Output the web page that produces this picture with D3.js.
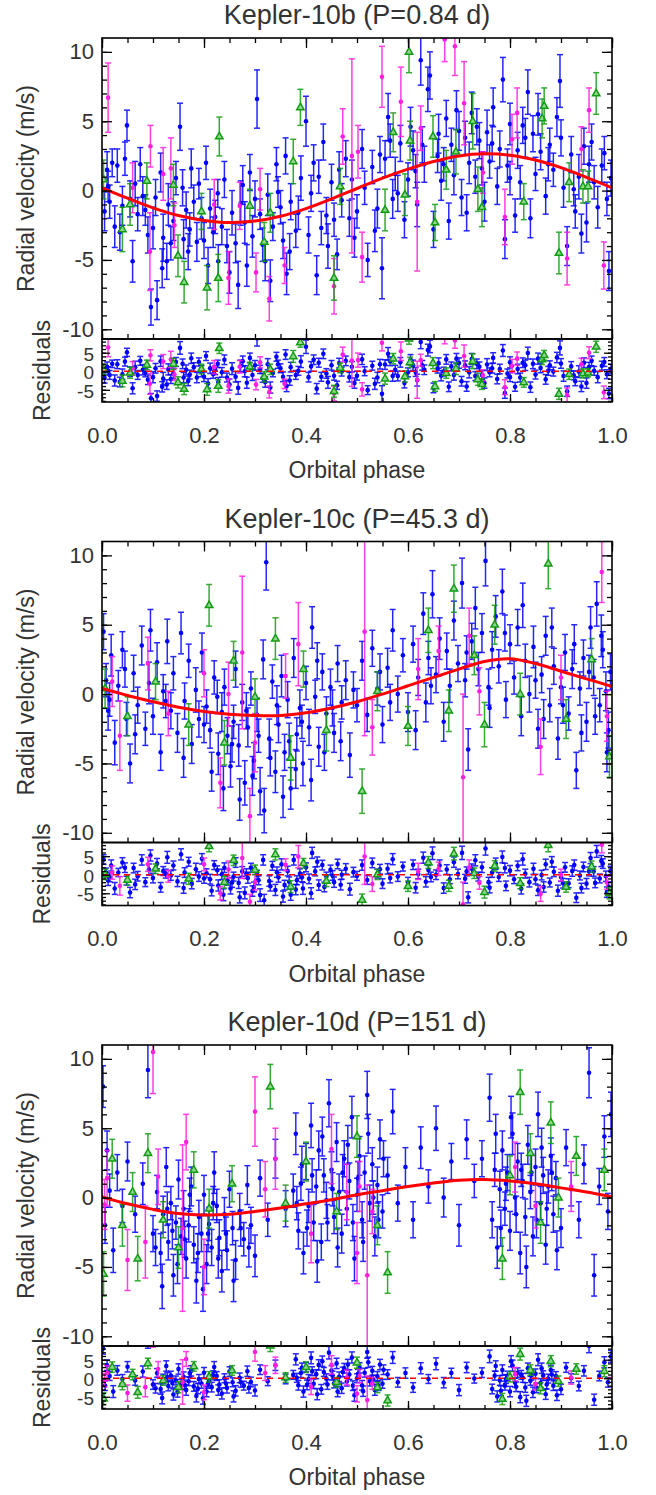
<!DOCTYPE html>
<html>
<head>
<meta charset="utf-8">
<script src="https://cdn.jsdelivr.net/npm/d3@7"></script>
<style>
  body { margin: 0; background: #fff; }
  text { font-family: "Liberation Sans", Arial, sans-serif; }
</style>
</head>
<body>
<svg id="chart"></svg>
<script>
// titles and tick labels
let titles = ['Kepler-10b (P=0.84 d)', 'Kepler-10c (P=45.3 d)', 'Kepler-10d (P=151 d)']
let xTicks = [0, 0.2, 0.4, 0.6, 0.8, 1.0]
let yTicks = [-10, -5, 0, 5, 10]
let resTicks = [-5, 0, 5]

// model curves, every 0.05 in phase
let modelPhase = [0, .05, .1, .15, .2, .25, .3, .35, .4, .45, .5, .55, .6, .65, .7, .75, .8, .85, .9, .95, 1]
let model10b = [0.2, -0.55, -1.25, -1.8, -2.15, -2.3, -2.2, -1.85, -1.3, -0.6, 0.15, 0.9, 1.55, 2.1, 2.5, 2.65, 2.55, 2.2, 1.65, 0.95, 0.2]
let model10c = [0.4, -0.1, -0.55, -0.95, -1.25, -1.45, -1.55, -1.55, -1.35, -1.0, -0.55, 0.0, 0.6, 1.2, 1.8, 2.35, 2.55, 2.2, 1.65, 1.1, 0.55]
let model10d = [0.05, -0.45, -0.85, -1.15, -1.25, -1.2, -1.0, -0.75, -0.45, -0.15, 0.2, 0.5, 0.8, 1.05, 1.25, 1.3, 1.2, 1.0, 0.7, 0.4, 0.05]

// points: [phase, rv, error, residual]
let blue10b = [[.005,-1.5,1.4,-1.8],[.01,1.5,1.3,1.2],[.015,-0.8,1.2,-1.0],[.02,2.0,1.0,2.0],[.025,-2.6,1.5,-2.5],[.03,1.8,1.2,1.9],[.04,-1.1,1.4,-0.8],[.045,2.3,1.2,2.6],[.049,4.7,1.1,5.1],[.055,-0.6,1.3,-0.1],[.06,-5.1,1.5,-4.6],[.065,0.5,1.6,1.1],[.07,-1.7,1.2,-1.0],[.08,-0.4,1.4,0.4],[.09,-3.2,1.3,-2.3],[.096,-8.4,1.3,-7.3],[.1,-2.7,1.5,-1.6],[.108,-7.9,1.4,-6.7],[.115,1.3,1.4,2.7],[.12,-3.4,1.7,-2.0],[.127,-5.1,1.3,-3.6],[.13,-1.0,1.5,0.5],[.14,-2.2,1.4,-0.6],[.145,0.9,1.2,2.5],[.153,4.6,1.7,6.3],[.16,-3.5,1.4,-1.7],[.165,-1.4,1.3,0.4],[.169,-4.4,1.3,-2.6],[.175,1.6,1.4,3.5],[.18,-0.8,1.2,1.1],[.186,-3.7,1.4,-1.7],[.19,0.5,1.1,2.5],[.195,-2.0,1.5,0.0],[.204,2.0,1.2,4.1],[.208,-5.4,1.3,-3.3],[.212,-1.3,1.4,0.8],[.218,-3.0,1.1,-0.8],[.227,-0.2,1.0,2.0],[.228,-5.1,1.2,-2.9],[.235,-2.6,1.3,-0.3],[.245,-4.0,1.2,-1.7],[.255,-1.6,1.6,0.7],[.262,-3.8,1.4,-1.5],[.267,-6.8,1.7,-4.5],[.272,-0.9,1.6,1.4],[.276,0.4,1.4,2.7],[.28,-2.3,1.5,0.0],[.284,-5.4,1.5,-3.1],[.29,1.3,1.3,3.6],[.295,-3.3,1.5,-1.0],[.304,6.6,2.1,8.9],[.31,-1.7,1.1,0.5],[.32,-5.1,1.4,-2.9],[.325,-0.3,1.5,1.9],[.335,-2.6,1.0,-0.5],[.342,1.9,1.2,3.9],[.35,-1.2,1.2,0.8],[.355,-3.6,1.3,-1.5],[.36,2.5,1.3,4.5],[.362,-6.0,1.5,-4.0],[.37,-0.8,1.3,1.1],[.38,-2.9,1.2,-1.0],[.39,0.9,1.6,2.6],[.4,5.0,1.8,6.6],[.405,-3.2,1.3,-1.6],[.41,-0.2,1.3,1.3],[.421,-6.1,1.4,-4.7],[.425,1.0,1.2,2.3],[.434,3.5,1.3,4.7],[.44,-1.8,1.3,-0.6],[.443,-4.0,1.6,-3.0],[.45,0.6,1.3,1.6],[.461,-4.6,1.1,-3.8],[.47,-0.7,1.2,-0.1],[.478,2.3,1.3,2.8],[.485,-2.0,1.3,-1.6],[.49,0.8,1.4,1.2],[.5,-1.5,1.2,-1.2],[.51,3.0,1.4,3.2],[.521,-5.0,1.2,-5.1],[.53,1.7,1.2,1.5],[.54,-1.3,1.4,-1.7],[.549,-5.6,2.2,-6.1],[.555,2.3,1.3,1.8],[.561,5.3,1.7,4.7],[.57,-0.6,1.4,-1.3],[.575,1.2,1.2,0.4],[.585,3.4,1.3,2.4],[.593,-2.1,1.3,-3.2],[.6,0.8,1.2,-0.3],[.61,2.9,1.4,1.6],[.618,-1.0,1.6,-2.4],[.625,9.4,1.8,7.9],[.632,1.9,1.3,0.4],[.639,7.3,1.6,5.7],[.643,8.3,1.7,6.7],[.65,-2.8,1.3,-4.5],[.658,2.5,1.2,0.7],[.665,0.7,1.4,-1.2],[.675,5.2,1.3,3.2],[.68,-2.2,1.3,-4.2],[.685,3.3,1.2,1.3],[.69,1.1,1.4,-1.0],[.7,4.3,1.4,2.2],[.705,-0.5,1.3,-2.7],[.712,3.8,1.2,1.6],[.72,2.0,1.5,-0.3],[.725,5.6,1.5,3.3],[.732,1.0,1.2,-1.3],[.74,3.6,1.3,1.2],[.75,-0.8,1.4,-3.2],[.755,4.2,1.6,1.8],[.76,2.1,1.2,-0.3],[.767,6.0,1.4,3.6],[.775,0.3,1.3,-2.1],[.78,3.0,1.3,0.6],[.786,8.0,1.6,5.6],[.79,-3.5,1.4,-5.9],[.795,1.8,1.2,-0.6],[.8,4.8,1.5,2.4],[.81,-1.8,1.2,-4.2],[.815,2.9,1.3,0.6],[.82,0.6,1.2,-1.7],[.83,3.8,1.4,1.6],[.835,7.1,1.6,4.9],[.845,4.1,1.3,2.0],[.85,1.2,1.2,-0.9],[.86,2.8,1.3,0.9],[.87,-0.4,1.3,-2.2],[.878,3.3,1.2,1.6],[.885,1.5,1.2,-0.1],[.892,5.3,1.4,3.7],[.898,7.9,1.9,6.3],[.905,0.2,1.4,-1.3],[.912,-4.0,1.4,-5.4],[.92,2.6,1.3,1.3],[.928,-1.5,1.2,-2.7],[.935,1.0,1.6,-0.1],[.945,3.2,1.3,2.3],[.95,-2.3,1.4,-3.2],[.96,3.5,1.3,2.8],[.965,0.6,1.2,0.1],[.972,-1.2,1.5,-1.6],[.98,1.8,1.2,1.5],[.99,-0.6,1.2,-0.8],[.994,-5.8,1.4,-6.0],[.998,0.9,1.3,0.6],
  [.012,0.3,1.1,0.1],[.035,-3.0,1.3,-2.9],[.075,1.9,1.2,2.8],[.085,-1.4,1.1,-0.4],[.105,-0.5,1.3,0.8],[.118,-5.6,1.4,-4.2],[.135,-3.8,1.2,-2.1],[.158,0.2,1.3,2.0],[.172,-2.8,1.2,-0.9],[.2,-3.6,1.3,-1.5],[.222,-1.9,1.2,0.3],[.24,0.8,1.3,3.1],[.25,-5.9,1.5,-3.6],[.3,-0.6,1.3,1.6],[.315,-3.9,1.2,-1.8],[.33,-6.5,1.5,-4.4],[.345,-0.1,1.1,1.9],[.368,-4.4,1.3,-2.5],[.385,-1.6,1.2,0.1],[.415,2.0,1.3,3.1],[.43,-2.7,1.2,-1.5],[.455,-2.1,1.2,-1.2],[.465,1.5,1.3,2.2],[.495,-3.4,1.4,-3.2],[.515,0.2,1.2,0.0],[.535,-2.9,1.5,-3.4],[.545,2.6,1.3,1.9],[.565,3.6,1.2,2.7],[.58,-0.2,1.3,-1.3],[.605,4.6,1.4,3.1],[.615,1.4,1.2,-0.2],[.628,3.3,1.3,1.6],[.66,4.1,1.4,2.2],[.67,1.9,1.2,-0.1],[.695,5.8,1.4,3.4],[.715,-1.6,1.3,-4.1],[.735,4.6,1.3,2.0],[.745,1.6,1.2,-1.0],[.765,3.4,1.3,0.8],[.8,0.9,1.2,-1.6],[.825,4.7,1.3,2.3],[.84,-2.0,1.4,-4.3],[.855,5.5,1.5,3.4],[.875,1.9,1.2,0.1],[.9,3.8,1.3,2.1],[.925,0.1,1.2,-1.1],[.94,-3.1,1.4,-4.1],[.955,1.9,1.3,1.1],[.985,2.7,1.2,2.5]]
let pink10b = [[.012,6.7,2.5,6.4],[.06,0.2,1.8,0.8],[.094,-4.4,2.8,-3.4],[.095,3.2,1.5,4.3],[.12,1.2,1.9,2.6],[.135,1.6,2.2,3.2],[.142,-2.5,1.6,-0.9],[.22,-1.0,1.8,1.1],[.248,-6.3,1.9,-4.0],[.27,-1.1,1.7,1.2],[.302,-5.9,1.4,-3.6],[.31,0.1,1.5,2.4],[.328,-7.8,1.6,-5.6],[.358,-5.4,1.3,-3.4],[.455,-6.9,2.0,-6.0],[.472,3.9,2.0,4.5],[.49,2.5,7.0,2.9],[.502,2.8,1.9,3.0],[.51,-4.8,1.8,-4.9],[.549,8.2,2.2,7.7],[.586,6.4,2.5,5.4],[.618,-0.8,5.0,-2.3],[.625,4.5,1.6,3.0],[.672,10.9,1.6,9.0],[.692,10.4,2.1,8.3],[.71,6.3,3.0,4.1],[.747,1.3,1.5,-1.1],[.79,-1.9,2.0,-4.3],[.804,3.7,1.8,1.4],[.814,5.6,1.8,3.4],[.912,-4.9,1.9,-6.4],[.94,3.0,1.6,1.9],[.955,5.8,1.6,5.0],[.984,-5.4,1.7,-5.7]]
let green10b = [[.003,0.8,1.4,0.5],[.04,-2.8,1.6,-2.6],[.055,-1.0,1.5,-0.4],[.088,0.7,1.3,1.7],[.14,0.4,1.5,2.0],[.149,-4.7,1.5,-3.0],[.161,-6.6,1.5,-4.8],[.195,-1.5,1.3,0.6],[.206,-7.0,1.6,-4.9],[.228,-6.3,1.7,-4.0],[.23,3.9,1.4,6.2],[.29,-1.1,1.2,1.2],[.318,-3.7,1.4,-1.5],[.33,-1.6,1.4,0.5],[.375,2.1,1.6,4.0],[.389,6.0,1.3,7.8],[.455,-6.3,1.6,-5.4],[.467,0.3,1.3,0.9],[.555,-1.4,1.5,-2.0],[.571,4.2,1.4,3.4],[.594,-0.3,1.5,-1.4],[.602,10.0,1.5,8.8],[.604,3.6,1.4,2.4],[.649,3.9,1.5,2.2],[.653,-2.3,1.3,-4.1],[.675,1.5,1.4,-0.5],[.694,2.8,1.6,0.7],[.727,5.0,2.0,2.7],[.737,0.1,1.6,-2.2],[.745,-1.2,1.4,-3.5],[.827,-0.8,1.3,-3.0],[.863,5.2,1.4,3.2],[.867,6.1,1.3,4.3],[.896,-4.5,1.5,-6.1],[.916,0.6,1.4,-0.8],[.943,0.3,1.2,-0.6],[.953,0.3,1.1,-0.4],[.969,7.0,1.5,6.6]]

let blue10c = [[.003,4.5,1.3,4.1],[.008,1.0,1.2,0.6],[.012,-1.2,1.4,-1.5],[.018,2.8,1.5,2.5],[.025,-3.5,1.6,-3.7],[.032,0.6,1.1,0.6],[.04,3.2,1.3,3.3],[.048,-1.8,1.2,-1.6],[.055,-5.0,1.4,-4.8],[.062,1.5,1.3,1.8],[.07,-0.8,1.3,-0.4],[.078,3.5,1.4,4.0],[.085,-2.5,1.2,-2.0],[.092,0.8,1.5,1.4],[.1,-1.6,1.3,-0.9],[.108,2.3,1.4,3.0],[.115,-4.2,1.3,-3.4],[.12,0.2,1.2,1.0],[.128,3.8,1.6,4.7],[.135,-1.2,1.3,-0.2],[.14,1.5,1.2,2.5],[.148,-2.8,1.4,-1.8],[.155,4.4,1.5,5.5],[.162,-0.5,1.3,0.6],[.17,2.4,1.2,3.5],[.176,-3.6,1.4,-2.4],[.184,0.3,1.6,1.5],[.19,-1.8,1.3,-0.5],[.196,3.0,1.4,4.3],[.205,-0.9,1.2,0.4],[.212,-2.6,1.3,-1.2],[.22,1.2,1.2,2.6],[.228,-4.3,1.5,-2.9],[.235,-1.3,1.4,0.1],[.24,0.5,1.3,1.9],[.246,-3.0,1.3,-1.5],[.252,-5.2,1.5,-3.7],[.258,-2.0,1.2,-0.5],[.262,1.8,1.3,3.3],[.268,-3.7,1.5,-2.2],[.275,-0.6,1.3,0.9],[.28,-6.4,1.6,-4.9],[.286,-2.4,1.4,-0.9],[.292,0.4,1.2,1.9],[.298,-4.8,1.3,-3.3],[.304,-1.5,1.2,0.0],[.31,-7.0,1.7,-5.5],[.316,2.5,1.4,4.0],[.322,9.5,2.0,11.0],[.328,-3.2,1.4,-1.7],[.334,0.9,1.2,2.4],[.34,-5.6,1.5,-4.1],[.346,-2.2,1.3,-0.7],[.352,1.3,1.5,2.8],[.358,-4.2,1.3,-2.8],[.364,-0.4,1.3,1.0],[.37,-6.8,1.5,-5.4],[.376,2.6,1.4,4.0],[.382,-2.9,1.2,-1.5],[.388,-1.0,1.3,0.3],[.394,-5.0,1.6,-3.7],[.4,0.8,1.2,2.0],[.406,-2.4,1.3,-1.1],[.412,4.8,1.5,5.9],[.418,-0.2,1.2,0.9],[.425,-3.8,1.4,-2.8],[.432,1.6,1.3,2.6],[.44,-1.4,1.2,-0.5],[.448,0.5,1.3,1.3],[.455,-2.8,1.4,-2.0],[.462,2.2,1.3,2.9],[.47,-0.6,1.2,0.0],[.478,1.0,1.4,1.6],[.486,-4.4,1.6,-3.9],[.493,0.3,1.3,0.7],[.51,2.4,1.4,2.6],[.52,-1.5,1.2,-1.4],[.53,3.3,1.3,3.2],[.54,0.4,1.2,0.3],[.55,-2.2,1.3,-2.4],[.56,1.9,1.4,1.6],[.57,4.6,1.5,4.2],[.58,0.0,1.3,-0.5],[.59,2.8,1.2,2.2],[.6,-1.3,1.4,-2.1],[.61,3.6,1.3,2.7],[.62,1.2,1.3,0.2],[.63,5.8,1.5,4.6],[.635,-0.6,1.4,-1.9],[.64,2.6,1.2,1.3],[.648,7.2,1.7,5.8],[.655,1.4,1.3,0.0],[.662,4.0,1.5,2.5],[.67,-2.0,1.4,-3.6],[.676,3.1,1.3,1.4],[.682,0.6,1.2,-1.2],[.69,5.3,1.4,3.4],[.698,2.2,1.3,0.2],[.706,8.0,1.8,5.9],[.712,1.0,1.2,-1.1],[.718,-4.0,1.5,-6.1],[.725,3.8,1.3,1.6],[.732,6.2,1.5,3.9],[.738,1.8,1.2,-0.5],[.745,4.4,1.4,2.0],[.752,9.6,1.8,7.1],[.758,0.5,1.3,-2.0],[.765,3.2,1.3,0.6],[.772,5.6,1.5,3.0],[.778,2.0,1.2,-0.6],[.785,7.4,1.6,4.8],[.792,-0.4,1.3,-3.0],[.8,3.6,1.4,1.1],[.808,1.2,1.2,-1.2],[.815,4.8,1.3,2.4],[.822,-1.6,1.4,-3.8],[.83,2.4,1.2,0.3],[.838,0.0,1.3,-2.0],[.846,3.4,1.5,1.6],[.855,-2.5,1.4,-4.2],[.862,1.4,1.3,-0.1],[.87,4.2,1.4,2.8],[.878,-0.8,1.2,-2.1],[.886,2.0,1.3,0.8],[.894,-3.2,1.5,-4.3],[.9,0.5,1.2,-0.6],[.908,3.0,1.3,2.0],[.915,-1.4,1.2,-2.3],[.922,1.8,1.4,1.0],[.93,-5.5,1.3,-6.2],[.937,0.4,1.2,-0.2],[.944,2.6,1.3,2.1],[.95,-2.0,1.4,-2.4],[.958,4.8,1.5,4.5],[.964,1.2,1.3,0.9],[.97,6.5,1.6,6.3],[.976,-0.8,1.2,-1.0],[.982,3.2,1.3,3.0],[.988,0.2,1.4,-0.4],[.993,-2.6,1.3,-3.2],[.997,1.6,1.3,1.0],
  [.015,-0.4,1.2,-0.7],[.045,1.8,1.3,1.9],[.065,-2.9,1.4,-2.6],[.095,4.6,1.5,5.2],[.125,-0.5,1.2,0.3],[.16,-4.6,1.4,-3.6],[.2,-2.2,1.3,-1.0],[.215,-5.6,1.4,-4.3],[.226,-0.2,1.2,1.2],[.238,-6.8,1.6,-5.4],[.255,-3.6,1.3,-2.1],[.27,-7.6,1.5,-6.1],[.283,-1.2,1.3,0.3],[.295,-5.9,1.4,-4.4],[.307,-3.0,1.2,-1.5],[.318,-8.4,1.6,-6.9],[.33,-4.6,1.3,-3.1],[.343,-0.8,1.4,0.7],[.355,-7.4,1.5,-5.9],[.367,-3.4,1.3,-1.9],[.38,-5.4,1.4,-4.0],[.392,-2.0,1.2,-0.7],[.41,-6.2,1.5,-5.0],[.422,2.4,1.3,3.5],[.436,-4.2,1.3,-3.3],[.452,-1.0,1.3,-0.2],[.468,-3.4,1.4,-2.7],[.5,-0.8,1.2,-0.3],[.545,1.6,1.3,1.5],[.565,-0.6,1.3,-0.9],[.615,-2.6,1.4,-3.5],[.645,0.6,1.3,-0.6],[.715,3.0,1.2,0.9],[.76,-1.0,1.4,-3.5],[.79,4.4,1.3,1.8],[.825,6.4,1.6,4.2],[.85,1.0,1.3,-1.2],[.866,-1.8,1.4,-3.3],[.882,4.8,1.4,3.5],[.904,-0.8,1.3,-2.3],[.926,3.6,1.4,2.6],[.94,-2.8,1.3,-3.6],[.955,1.6,1.2,0.9],[.967,-1.6,1.3,-2.2],[.979,4.2,1.5,3.7],[.99,-4.2,1.4,-4.7]]
let pink10c = [[.02,0.9,1.8,0.6],[.035,-3.0,2.5,-3.0],[.09,2.2,1.9,2.8],[.13,-1.4,1.6,-0.4],[.2,1.5,1.7,2.8],[.232,-6.4,1.8,-5.0],[.248,0.0,2.3,1.4],[.275,3.0,5.5,4.5],[.29,-8.8,2.0,-7.3],[.3,-3.5,2.1,-2.0],[.36,1.3,1.6,2.7],[.385,3.6,3.0,4.9],[.515,4.5,7.5,4.9],[.53,-2.4,2.0,-2.5],[.62,1.8,2.2,0.9],[.66,3.1,1.8,1.6],[.708,-6.0,6.0,-8.0],[.72,4.2,2.0,2.0],[.74,0.2,1.7,-2.2],[.86,-3.8,2.0,-5.2],[.9,1.2,1.6,-0.1],[.98,8.8,2.2,8.1],[.99,-1.6,1.8,-2.1]]
let green10c = [[.006,0.4,1.4,0.1],[.05,-1.6,1.4,-1.4],[.105,0.9,1.3,1.6],[.17,-2.2,1.5,-1.1],[.21,6.4,1.5,7.7],[.24,-3.5,1.6,-2.0],[.258,2.4,1.4,3.9],[.3,-0.2,1.3,1.3],[.34,4.0,1.5,5.5],[.37,-4.6,1.6,-3.2],[.395,1.8,1.3,3.1],[.44,-2.6,1.5,-1.7],[.51,-7.0,1.6,-6.8],[.54,0.2,1.4,0.1],[.6,-2.3,1.4,-3.1],[.64,4.6,1.6,3.3],[.68,-1.2,1.5,-3.0],[.69,7.6,1.7,5.7],[.73,2.8,1.4,0.4],[.75,-2.2,1.6,-4.7],[.77,5.0,1.4,2.4],[.82,0.0,1.5,-2.3],[.875,9.4,1.8,8.0],[.91,-1.8,1.4,-3.3],[.96,2.5,1.5,2.2],[.995,-4.5,1.5,-5.0]]

let blue10d = [[.002,8.0,1.5,8.0],[.006,-2.0,1.3,-2.0],[.01,3.4,1.4,3.5],[.015,0.5,1.2,0.6],[.022,-3.8,1.6,-3.6],[.03,1.8,1.3,2.1],[.04,-0.6,1.2,-0.2],[.05,2.6,1.4,3.1],[.065,-1.2,1.3,-0.6],[.08,1.0,1.5,1.8],[.09,9.2,2.0,10.1],[.1,-2.6,1.3,-1.7],[.108,0.4,1.2,1.4],[.115,-4.0,1.4,-2.9],[.12,-1.2,1.3,-0.2],[.126,2.2,1.4,3.3],[.13,-3.2,1.3,-2.1],[.135,-0.4,1.2,0.7],[.14,-5.6,1.5,-4.4],[.145,-1.8,1.2,-0.6],[.15,1.3,1.4,2.5],[.155,-2.8,1.3,-1.6],[.16,-0.8,1.3,0.4],[.165,-4.4,1.4,-3.2],[.17,-2.0,1.2,-0.8],[.175,0.8,1.4,2.0],[.18,-3.4,1.3,-2.2],[.185,-6.0,1.6,-4.8],[.19,-1.4,1.2,-0.2],[.195,-2.6,1.3,-1.4],[.2,0.2,1.4,1.5],[.205,-4.8,1.4,-3.6],[.21,-1.9,1.2,-0.7],[.215,-3.6,1.3,-2.4],[.22,1.8,1.5,3.0],[.225,-0.6,1.2,0.6],[.23,-2.9,1.3,-1.7],[.235,-5.3,1.5,-4.1],[.24,-1.2,1.2,0.0],[.245,-3.8,1.4,-2.6],[.25,0.6,1.3,1.8],[.256,-2.2,1.2,-1.1],[.262,-4.5,1.4,-3.4],[.27,-1.0,1.3,0.1],[.278,-3.0,1.2,-2.0],[.285,0.9,1.4,1.9],[.292,-2.0,1.3,-1.0],[.3,-4.2,1.5,-3.3],[.31,1.4,1.3,2.3],[.325,-1.6,1.2,-0.8],[.34,2.8,1.4,3.5],[.36,-0.8,1.3,-0.2],[.375,0.5,1.2,0.9],[.38,4.6,1.5,5.1],[.385,-2.4,1.3,-1.9],[.39,1.0,1.2,1.4],[.395,-4.0,1.5,-3.6],[.4,2.6,1.3,3.0],[.405,-0.6,1.2,-0.2],[.41,5.2,1.6,5.5],[.415,-1.8,1.3,-1.5],[.42,0.8,1.2,1.1],[.425,3.4,1.4,3.6],[.43,-3.2,1.3,-3.0],[.435,1.6,1.2,1.7],[.44,-0.2,1.3,-0.1],[.445,6.8,1.7,6.9],[.45,2.0,1.3,2.1],[.455,-1.4,1.2,-1.4],[.46,4.0,1.4,4.0],[.465,0.4,1.3,0.4],[.47,-2.6,1.4,-2.7],[.475,2.8,1.3,2.7],[.48,-0.8,1.2,-0.9],[.485,1.2,1.3,1.0],[.49,5.8,1.5,5.6],[.495,-4.4,1.6,-4.6],[.5,0.2,1.2,0.0],[.505,3.0,1.4,2.8],[.51,-1.6,1.3,-1.9],[.515,1.8,1.2,1.5],[.52,7.4,1.7,7.1],[.525,-0.4,1.3,-0.8],[.53,2.4,1.2,2.0],[.535,-2.8,1.4,-3.2],[.54,0.9,1.3,0.5],[.545,4.2,1.4,3.7],[.55,-1.0,1.2,-1.5],[.56,1.6,1.3,1.0],[.57,6.2,1.6,5.6],[.58,-0.4,1.3,-1.1],[.595,2.2,1.4,1.4],[.61,-1.6,1.3,-2.5],[.625,3.6,1.5,2.7],[.64,0.8,1.2,-0.2],[.655,5.0,1.6,3.9],[.67,0.0,1.4,-1.2],[.685,2.6,1.3,1.4],[.7,-2.0,1.5,-3.2],[.715,4.2,1.4,2.9],[.73,1.2,1.2,-0.1],[.745,2.8,1.3,1.5],[.76,7.2,1.7,5.9],[.765,-1.6,1.3,-2.9],[.77,2.0,1.2,0.7],[.775,-3.6,1.5,-4.9],[.78,0.6,1.3,-0.6],[.785,3.4,1.4,2.2],[.79,-0.8,1.2,-2.0],[.795,1.8,1.3,0.6],[.8,-2.4,1.4,-3.6],[.805,4.6,1.5,3.4],[.81,0.0,1.2,-1.2],[.815,2.6,1.3,1.5],[.82,-4.0,1.5,-5.1],[.825,1.2,1.2,0.1],[.83,-1.4,1.3,-2.5],[.835,3.8,1.4,2.7],[.84,0.4,1.2,-0.7],[.845,-2.8,1.4,-3.8],[.85,2.2,1.3,1.2],[.855,6.0,1.6,5.0],[.86,-0.4,1.2,-1.3],[.865,1.6,1.3,0.7],[.87,-3.4,1.4,-4.3],[.875,0.8,1.2,-0.1],[.88,3.0,1.3,2.2],[.885,-1.2,1.3,-2.0],[.89,1.4,1.2,0.6],[.9,-2.2,1.4,-3.0],[.91,3.6,1.3,2.9],[.92,0.6,1.2,0.0],[.935,-1.6,1.3,-2.1],[.945,2.4,1.4,2.0],[.955,9.0,1.8,8.7],[.965,-5.6,1.5,-5.8],[.975,0.8,1.3,0.6],[.985,4.4,1.5,4.3],[.992,-1.0,1.3,-1.1],[.998,6.0,1.6,5.9],
  [.105,-3.6,1.3,-2.7],[.118,-6.4,1.6,-5.3],[.128,-0.8,1.2,0.3],[.138,-2.4,1.3,-1.3],[.148,-4.8,1.4,-3.7],[.162,-3.0,1.3,-1.8],[.172,0.2,1.2,1.4],[.188,-4.0,1.4,-2.8],[.198,-6.6,1.6,-5.4],[.208,-2.6,1.3,-1.4],[.218,-0.4,1.2,0.8],[.228,-4.4,1.4,-3.2],[.243,-2.6,1.2,-1.4],[.258,-6.0,1.5,-4.9],[.272,-2.2,1.3,-1.1],[.288,-3.6,1.4,-2.6],[.382,-0.4,1.2,0.1],[.392,2.4,1.3,2.8],[.402,-2.2,1.3,-1.8],[.412,1.6,1.2,1.9],[.422,-4.6,1.5,-4.3],[.432,4.4,1.4,4.6],[.442,-1.8,1.3,-1.7],[.452,0.6,1.2,0.7],[.462,-3.6,1.4,-3.6],[.472,1.8,1.3,1.7],[.482,3.8,1.4,3.7],[.492,-1.8,1.3,-2.0],[.502,1.4,1.2,1.2],[.512,-3.2,1.4,-3.5],[.522,4.6,1.4,4.3],[.532,0.0,1.2,-0.4],[.542,-1.6,1.3,-2.0],[.552,2.8,1.3,2.3],[.772,4.6,1.4,3.3],[.782,-2.2,1.3,-3.4],[.792,1.0,1.2,-0.2],[.802,5.8,1.5,4.6],[.812,-1.2,1.3,-2.3],[.822,2.0,1.2,0.9],[.832,-5.0,1.5,-6.1],[.842,1.8,1.3,0.8],[.852,-1.6,1.3,-2.6],[.862,3.6,1.4,2.7],[.872,-0.8,1.2,-1.7],[.882,1.8,1.3,1.0],[.892,-3.8,1.4,-4.6]]
let pink10d = [[.005,-0.5,1.8,-0.5],[.01,1.4,2.0,1.4],[.05,-4.5,2.2,-4.0],[.085,-3.2,2.6,-2.4],[.1,10.5,3.0,11.4],[.11,1.5,2.0,2.5],[.158,-2.2,6.0,-1.0],[.165,4.0,2.0,5.2],[.2,-5.0,2.0,-3.8],[.3,6.2,2.5,7.1],[.32,0.6,2.0,1.4],[.34,2.8,2.2,3.5],[.41,-2.6,2.1,-2.3],[.45,3.5,2.5,3.6],[.48,0.4,2.0,0.2],[.5,-4.0,2.2,-4.2],[.505,0.8,1.8,0.6],[.52,-5.6,6.5,-5.9],[.53,-1.0,1.6,-1.4],[.81,2.2,1.8,1.1],[.85,-0.6,1.6,-1.6],[.92,0.8,1.8,0.2]]
let green10d = [[.003,-5.5,1.6,-5.5],[.02,2.8,1.4,3.0],[.04,-2.0,1.5,-1.6],[.06,0.4,1.4,1.0],[.07,-4.4,1.6,-3.8],[.09,3.2,1.4,4.0],[.12,-1.6,1.3,-0.6],[.15,-3.6,1.5,-2.4],[.18,2.0,1.3,3.2],[.21,-0.8,1.4,0.4],[.255,1.0,1.3,2.1],[.33,8.0,1.6,8.8],[.36,-0.4,1.3,0.2],[.4,2.6,1.4,3.0],[.46,-1.0,1.3,-1.1],[.5,4.4,1.5,4.2],[.54,-2.0,1.4,-2.5],[.56,-5.4,1.5,-6.0],[.785,-4.4,1.5,-5.6],[.8,1.6,1.4,0.4],[.82,7.6,1.6,6.5],[.84,3.2,1.4,2.2],[.86,-1.8,1.5,-2.7],[.88,5.4,1.5,4.6],[.895,0.0,1.4,-0.8],[.93,3.0,1.4,2.5],[.985,2.0,1.5,1.9]]

let w = 656
let h = 1495
let plotLeft = 102
let plotRight = 612
let plotTop = 38
let mainBottom = 339
let resBottom = 402
let panelStep = 503.5

let blueCol = '#0000ff'
let pinkCol = '#ff1ee0'
let greenCol = '#129c12'

let svg = d3.select('#chart').attr('width', w).attr('height', h)

let panels = [
    {title: titles[0], blue: blue10b, pink: pink10b, green: green10b, model: model10b},
    {title: titles[1], blue: blue10c, pink: pink10c, green: green10c, model: model10c},
    {title: titles[2], blue: blue10d, pink: pink10d, green: green10d, model: model10d}
]

let xScale = d3.scaleLinear().domain([0, 1]).range([plotLeft, plotRight])
let yScale = d3.scaleLinear().domain([-10.7, 11]).range([mainBottom, plotTop])
let resScale = d3.scaleLinear().domain([-8.3, 8.7]).range([resBottom, mainBottom])

let triangle = 'M0,-4.2L3.7,2.3L-3.7,2.3Z'

// error bar + marker for one series, in one of the two panels
let drawSeries = (layer, data, color, shape, y, k) => {
    let pts = layer.append('g').selectAll('g').data(data).enter().append('g')
    let bar = pts.append('g').attr('stroke', color).attr('stroke-width', 1.5).attr('opacity', 0.85)
    bar.append('line')
        .attr('x1', d => xScale(d[0])).attr('x2', d => xScale(d[0]))
        .attr('y1', d => y(d[k] - d[2])).attr('y2', d => y(d[k] + d[2]))
    bar.append('line')
        .attr('x1', d => xScale(d[0]) - 3).attr('x2', d => xScale(d[0]) + 3)
        .attr('y1', d => y(d[k] - d[2])).attr('y2', d => y(d[k] - d[2]))
    bar.append('line')
        .attr('x1', d => xScale(d[0]) - 3).attr('x2', d => xScale(d[0]) + 3)
        .attr('y1', d => y(d[k] + d[2])).attr('y2', d => y(d[k] + d[2]))
    if (shape === 'tri') {
        pts.append('path')
            .attr('d', triangle)
            .attr('transform', d => 'translate(' + xScale(d[0]) + ',' + y(d[k]) + ')')
            .attr('fill', '#8fd68f')
            .attr('stroke', color)
            .attr('stroke-width', 1.5)
    } else {
        pts.append('circle')
            .attr('cx', d => xScale(d[0]))
            .attr('cy', d => y(d[k]))
            .attr('r', 2.3)
            .attr('fill', color)
    }
}

let styleAxis = (sel, showText, size) => {
    sel.select('.domain').remove()
    sel.selectAll('.tick line').attr('stroke', '#000').attr('stroke-width', 1.3)
    sel.selectAll('text')
        .attr('font-family', '"Liberation Sans", Arial, sans-serif')
        .attr('font-size', size || 22)
        .attr('fill', '#333')
    if (!showText) sel.selectAll('text').remove()
}

let drawPanel = (p, i) => {
    let g = svg.append('g').attr('transform', 'translate(0,' + (i * panelStep) + ')')

    g.append('clipPath').attr('id', 'clipMain' + i)
        .append('rect').attr('x', plotLeft).attr('y', plotTop)
        .attr('width', plotRight - plotLeft).attr('height', mainBottom - plotTop)
    g.append('clipPath').attr('id', 'clipRes' + i)
        .append('rect').attr('x', plotLeft).attr('y', mainBottom)
        .attr('width', plotRight - plotLeft).attr('height', resBottom - mainBottom)

    let mainLayer = g.append('g').attr('clip-path', 'url(#clipMain' + i + ')')
    let resLayer = g.append('g').attr('clip-path', 'url(#clipRes' + i + ')')

    drawSeries(mainLayer, p.blue, blueCol, 'dot', yScale, 1)
    drawSeries(mainLayer, p.pink, pinkCol, 'dot', yScale, 1)
    drawSeries(mainLayer, p.green, greenCol, 'tri', yScale, 1)
    drawSeries(resLayer, p.blue, blueCol, 'dot', resScale, 3)
    drawSeries(resLayer, p.pink, pinkCol, 'dot', resScale, 3)
    drawSeries(resLayer, p.green, greenCol, 'tri', resScale, 3)

    // model curve
    let line = d3.line()
        .x((d, j) => xScale(modelPhase[j]))
        .y(d => yScale(d))
        .curve(d3.curveCatmullRom)
    mainLayer.append('path')
        .datum(p.model)
        .attr('d', line)
        .attr('fill', 'none')
        .attr('stroke', '#ff0000')
        .attr('stroke-width', 3)

    // zero line of residuals
    resLayer.append('line')
        .attr('x1', plotLeft).attr('x2', plotRight)
        .attr('y1', resScale(0)).attr('y2', resScale(0))
        .attr('stroke', '#ff0000')
        .attr('stroke-width', 1.5)
        .attr('stroke-dasharray', '6,5')

    // axes: ticks pointing inwards
    let minorX = d3.range(0, 1.0001, 0.05)
    let minorY = d3.range(-10, 11, 1)
    let minorR = d3.range(-8, 9, 1)

    g.append('g').attr('transform', 'translate(0,' + plotTop + ')')
        .call(d3.axisTop(xScale).tickValues(minorX).tickSize(-5)).call(styleAxis, false)
    g.append('g').attr('transform', 'translate(0,' + plotTop + ')')
        .call(d3.axisTop(xScale).tickValues(xTicks).tickSize(-10)).call(styleAxis, false)
    g.append('g').attr('transform', 'translate(0,' + mainBottom + ')')
        .call(d3.axisBottom(xScale).tickValues(minorX).tickSize(-5)).call(styleAxis, false)
    g.append('g').attr('transform', 'translate(0,' + mainBottom + ')')
        .call(d3.axisBottom(xScale).tickValues(xTicks).tickSize(-10)).call(styleAxis, false)
    g.append('g').attr('transform', 'translate(0,' + resBottom + ')')
        .call(d3.axisBottom(xScale).tickValues(minorX).tickSize(-4)).call(styleAxis, false)
    g.append('g').attr('transform', 'translate(0,' + resBottom + ')')
        .call(d3.axisBottom(xScale).tickValues(xTicks).tickSize(-8).tickPadding(25).tickFormat(d3.format('.1f')))
        .call(styleAxis, true)

    g.append('g').attr('transform', 'translate(' + plotLeft + ',0)')
        .call(d3.axisLeft(yScale).tickValues(minorY).tickSize(-5)).call(styleAxis, false)
    g.append('g').attr('transform', 'translate(' + plotLeft + ',0)')
        .call(d3.axisLeft(yScale).tickValues(yTicks).tickSize(-10).tickPadding(8).tickFormat(d => String(d)))
        .call(styleAxis, true)
    g.append('g').attr('transform', 'translate(' + plotRight + ',0)')
        .call(d3.axisRight(yScale).tickValues(minorY).tickSize(-5)).call(styleAxis, false)
    g.append('g').attr('transform', 'translate(' + plotRight + ',0)')
        .call(d3.axisRight(yScale).tickValues(yTicks).tickSize(-10)).call(styleAxis, false)

    g.append('g').attr('transform', 'translate(' + plotLeft + ',0)')
        .call(d3.axisLeft(resScale).tickValues(minorR).tickSize(-4)).call(styleAxis, false)
    let resAxis = g.append('g').attr('transform', 'translate(' + plotLeft + ',0)')
        .call(d3.axisLeft(resScale).tickValues(resTicks).tickSize(-8).tickPadding(8).tickFormat(d => String(d)))
        .call(styleAxis, true, 19)
    resAxis.selectAll('text').attr('dy', '0.4em')
    g.append('g').attr('transform', 'translate(' + plotRight + ',0)')
        .call(d3.axisRight(resScale).tickValues(minorR).tickSize(-4)).call(styleAxis, false)
    g.append('g').attr('transform', 'translate(' + plotRight + ',0)')
        .call(d3.axisRight(resScale).tickValues(resTicks).tickSize(-8)).call(styleAxis, false)

    // frames
    g.append('rect').attr('x', plotLeft).attr('y', plotTop)
        .attr('width', plotRight - plotLeft).attr('height', mainBottom - plotTop)
        .attr('fill', 'none').attr('stroke', '#000').attr('stroke-width', 1.6)
    g.append('rect').attr('x', plotLeft).attr('y', mainBottom)
        .attr('width', plotRight - plotLeft).attr('height', resBottom - mainBottom)
        .attr('fill', 'none').attr('stroke', '#000').attr('stroke-width', 1.6)

    // texts
    g.append('text')
        .attr('x', (plotLeft + plotRight) / 2).attr('y', 24)
        .attr('text-anchor', 'middle')
        .attr('font-size', 27).attr('fill', '#333')
        .text(p.title)
    g.append('text')
        .attr('x', (plotLeft + plotRight) / 2).attr('y', 478)
        .attr('text-anchor', 'middle')
        .attr('font-size', 23).attr('fill', '#333')
        .text('Orbital phase')
    g.append('text')
        .attr('transform', 'translate(34,' + ((plotTop + mainBottom) / 2) + ') rotate(-90)')
        .attr('text-anchor', 'middle')
        .attr('font-size', 23).attr('fill', '#333')
        .text('Radial velocity (m/s)')
    g.append('text')
        .attr('transform', 'translate(50,' + ((mainBottom + resBottom) / 2) + ') rotate(-90)')
        .attr('text-anchor', 'middle')
        .attr('font-size', 23).attr('fill', '#333')
        .text('Residuals')
}

panels.forEach(drawPanel)
</script>
</body>
</html>
